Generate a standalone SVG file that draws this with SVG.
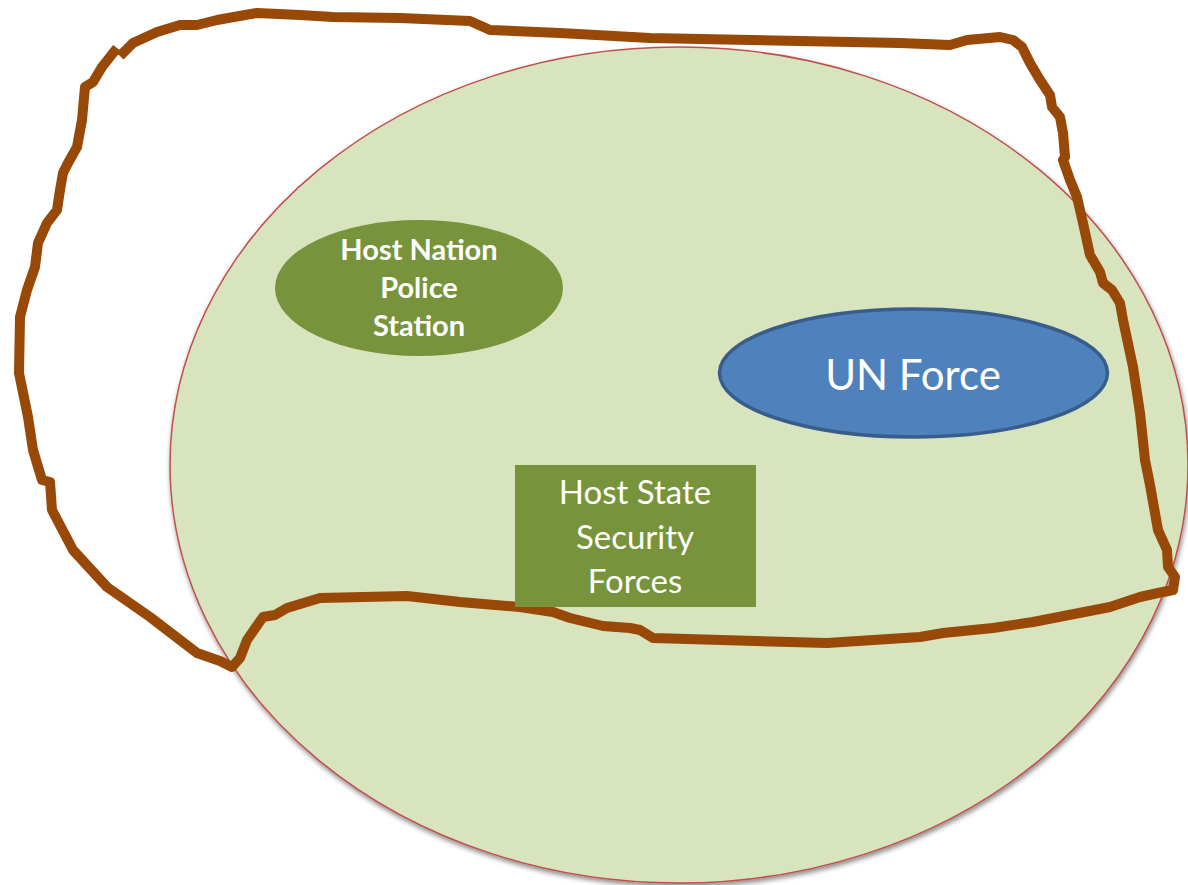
<svg xmlns="http://www.w3.org/2000/svg" width="1188" height="885" viewBox="0 0 1188 885">
  <defs>
    <filter id="shadow" x="-10%" y="-10%" width="120%" height="120%">
      <feGaussianBlur in="SourceAlpha" stdDeviation="2.5"/>
      <feOffset dx="1" dy="3" result="b"/>
      <feComponentTransfer><feFuncA type="linear" slope="0.45"/></feComponentTransfer>
      <feMerge><feMergeNode/><feMergeNode in="SourceGraphic"/></feMerge>
    </filter>
  </defs>
  <style>
    .area { fill: #D7E4BD; stroke: #C0504D; stroke-width: 1.5; }
    .green { fill: #77933C; }
    .un { fill: #4F81BD; stroke: #385D8A; stroke-width: 3.5; }
    .boundary { fill: none; stroke: #984807; stroke-width: 10; stroke-linejoin: round; stroke-linecap: butt; }
    .lbl { fill: #FFFFFF; font-family: Lato, "Open Sans", "Liberation Sans", sans-serif; text-anchor: middle; }
    .bold { font-weight: bold; font-size: 29px; }
    .reg { font-size: 33px; }
    .big { font-size: 42px; }
  </style>
  <rect width="1188" height="885" fill="#FFFFFF"/>
  <g id="area">
    <ellipse class="area" cx="679" cy="465" rx="509" ry="418" filter="url(#shadow)"/>
  </g>
  <g id="connectors">
    <path class="boundary" d="M120,56 L133,43 L157,32 L180,25 L197,25 L217,20 L245,15 L257,13 L300,15 L333,17 L400,18 L470,21 L490,30 L560,33 L650,38 L800,41 L900,43 L950,45 L967,40 L1000,37 L1013,40 L1022,47 L1030,63 L1040,80 L1050,95 L1052,107 L1060,117 L1063,133 L1065,157 L1063,160 L1070,180 L1077,197 L1083,223 L1090,255 L1100,272 L1103,283 L1112,290 L1120,303 L1123,320 L1133,367 L1140,413 L1145,460 L1150,485 L1158,530 L1167,550 L1168,567 L1175,577 L1173,590 L1158,593 L1140,597 L1110,607 L1033,622 L993,628 L943,633 L920,637 L827,643 L653,638 L640,630 L630,628 L603,626 L570,618 L553,612 L520,607 L460,602 L407,596 L320,598 L287,608 L275,615 L263,617 L247,640 L240,658 L232,667 L220,661 L197,653 L150,617 L107,587 L73,550 L52,510 L50,482 L42,480 L33,450 L28,417 L19,373 L20,317 L27,290 L35,267 L38,243 L47,223 L57,210 L60,190 L63,173 L68,163 L77,147 L82,120 L85,87 L93,82 L102,67 L117,48"/>
  </g>
  <g id="police">
    <ellipse class="green" cx="419" cy="288" rx="144" ry="68"/>
    <text class="lbl bold" x="419" y="260">Host Nation</text>
    <text class="lbl bold" x="419" y="298">Police</text>
    <text class="lbl bold" x="419" y="336">Station</text>
  </g>
  <g id="unforce">
    <ellipse class="un" cx="913.5" cy="373" rx="194" ry="64"/>
    <text class="lbl big" x="913" y="390">UN Force</text>
  </g>
  <g id="hostforces">
    <rect class="green" x="515" y="465" width="241" height="142"/>
    <text class="lbl reg" x="635" y="504">Host State</text>
    <text class="lbl reg" x="635" y="549">Security</text>
    <text class="lbl reg" x="635" y="593">Forces</text>
  </g>
</svg>
